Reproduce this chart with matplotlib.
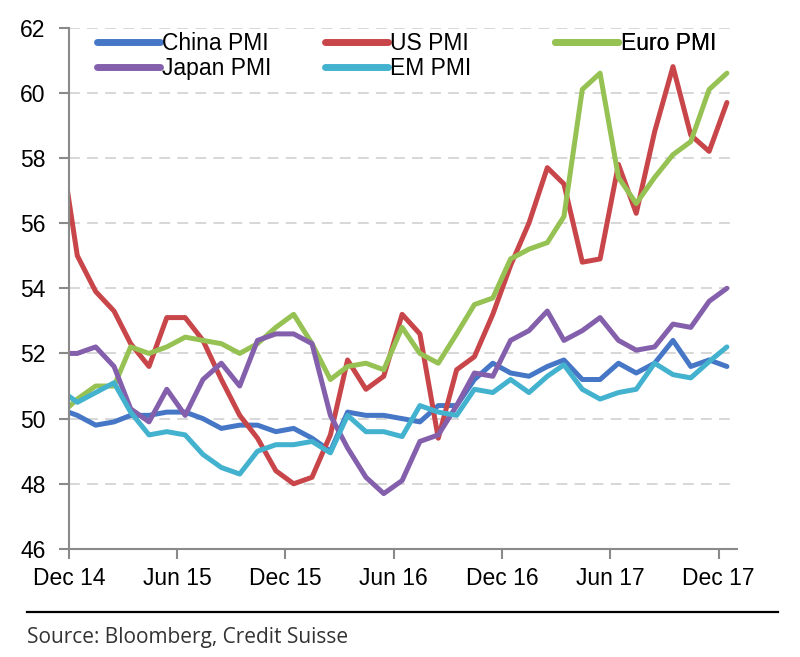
import matplotlib.pyplot as plt
import matplotlib.dates as mdates
import numpy as np
import pandas as pd

# monthly PMI prints Nov 14 .. Dec 17, plotted mid-month
# (Nov 14 only feeds the first segment, which is clipped at the axis)
months = pd.date_range('2014-11-01', '2017-12-01', freq='MS') + pd.Timedelta(days=14)

china = [50.3, 50.1, 49.8, 49.9, 50.1, 50.1, 50.2, 50.2, 50.0, 49.7, 49.8, 49.8,
         49.6, 49.7, 49.4, 49.0, 50.2, 50.1, 50.1, 50.0, 49.9, 50.4, 50.4, 51.2,
         51.7, 51.4, 51.3, 51.6, 51.8, 51.2, 51.2, 51.7, 51.4, 51.7, 52.4, 51.6,
         51.8, 51.6]
us = [58.6, 55.0, 53.9, 53.3, 52.3, 51.6, 53.1, 53.1, 52.4, 51.2, 50.1, 49.4,
      48.4, 48.0, 48.2, 49.5, 51.8, 50.9, 51.3, 53.2, 52.6, 49.4, 51.5, 51.9,
      53.2, 54.7, 56.0, 57.7, 57.2, 54.8, 54.9, 57.8, 56.3, 58.8, 60.8, 58.7,
      58.2, 59.7]
euro = [50.1, 50.6, 51.0, 51.0, 52.2, 52.0, 52.2, 52.5, 52.4, 52.3, 52.0, 52.3,
        52.8, 53.2, 52.3, 51.2, 51.6, 51.7, 51.5, 52.8, 52.0, 51.7, 52.6, 53.5,
        53.7, 54.9, 55.2, 55.4, 56.2, 60.1, 60.6, 57.4, 56.6, 57.4, 58.1, 58.5,
        60.1, 60.6]
japan = [52.0, 52.0, 52.2, 51.6, 50.3, 49.9, 50.9, 50.1, 51.2, 51.7, 51.0, 52.4,
         52.6, 52.6, 52.3, 50.1, 49.1, 48.2, 47.7, 48.1, 49.3, 49.5, 50.4, 51.4,
         51.3, 52.4, 52.7, 53.3, 52.4, 52.7, 53.1, 52.4, 52.1, 52.2, 52.9, 52.8,
         53.6, 54.0]
em = [50.9, 50.5, 50.8, 51.1, 50.2, 49.5, 49.6, 49.5, 48.9, 48.5, 48.3, 49.0,
      49.2, 49.2, 49.3, 48.95, 50.1, 49.6, 49.6, 49.45, 50.4, 50.2, 50.1, 50.9,
      50.8, 51.2, 50.8, 51.3, 51.65, 50.9, 50.6, 50.8, 50.9, 51.7, 51.35, 51.25,
      51.75, 52.2]

names = ['China PMI', 'US PMI', 'Euro PMI', 'Japan PMI', 'EM PMI']
colors = ['#4677C6', '#C8464A', '#96C153', '#8460AC', '#43B2CF']

plt.rcParams['font.family'] = ['Liberation Sans', 'DejaVu Sans']

fig = plt.figure(figsize=(8, 6.57), dpi=100)
ax = fig.add_axes([0.08625, 0.1644, 0.835, 0.7937])

lines = {}
for name, vals, c in zip(names, [china, us, euro, japan, em], colors):
    lines[name], = ax.plot(months, vals, color=c, lw=3.6, label=name,
                           solid_capstyle='round', solid_joinstyle='round')

ax.set_xlim(pd.Timestamp('2014-12-01'), pd.Timestamp('2018-01-01'))
ax.set_ylim(46, 62)
ax.set_yticks(np.arange(46, 63, 2))
ax.xaxis.set_major_locator(mdates.MonthLocator(bymonth=[6, 12]))
ax.xaxis.set_major_formatter(mdates.DateFormatter('%b %y'))

ax.grid(axis='y', color='#d4d4d4', lw=1.3, linestyle=(0, (6, 4)))
ax.set_axisbelow(True)
for s in ['top', 'right']:
    ax.spines[s].set_visible(False)
for s in ['left', 'bottom']:
    ax.spines[s].set_color('#8a8a8a')
    ax.spines[s].set_linewidth(1.5)
ax.tick_params(axis='y', length=7, width=1.5, color='#8a8a8a', labelsize=16.5, pad=10)
ax.tick_params(axis='x', length=7, width=1.5, color='#8a8a8a', labelsize=16.5, pad=6)

# three legend columns, spaced like the original
cols = [(['China PMI', 'Japan PMI'], 0.121), (['US PMI', 'EM PMI'], 0.406), (['Euro PMI'], 0.694)]
for keys, x0 in cols:
    leg = ax.legend([lines[k] for k in keys], keys, loc='upper left',
                    bbox_to_anchor=(x0, 0.951), bbox_transform=fig.transFigure,
                    frameon=False, fontsize=16.5, handlelength=2.75,
                    handletextpad=0.1, labelspacing=0.1, borderpad=0,
                    borderaxespad=0)
    for h in leg.get_lines():
        h.set_linewidth(5)
    ax.add_artist(leg)

fig.add_artist(plt.Line2D([0.034, 0.9725], [1 - 612 / 657] * 2, color='black', lw=1.6))
fig.text(0.034, 1 - 637 / 657, 'Source: Bloomberg, Credit Suisse', family='Open Sans',
         fontsize=15, color='#333333', va='center', ha='left')

fig.savefig('out.png', dpi=100)
